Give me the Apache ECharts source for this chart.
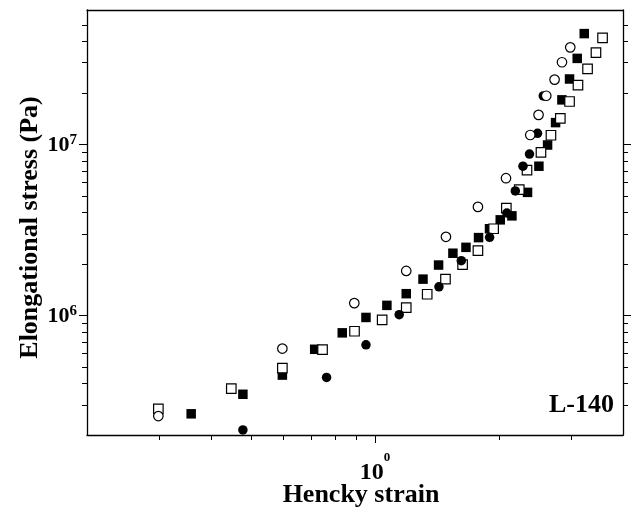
<!DOCTYPE html>
<html>
<head>
<meta charset="utf-8">
<script src="https://cdn.jsdelivr.net/npm/echarts@6/dist/echarts.min.js"></script>
<style>
  html, body { margin: 0; padding: 0; background: #fff; }
  #chart { width: 631px; height: 509px; }
</style>
</head>
<body>
<div id="chart"></div>
<script>
const FONT = '"Liberation Serif", "Times New Roman", serif';

// Hencky strain (x) and elongational stress in Pa (y) for each data set
const strainOpenCircle = [0.298, 0.596, 0.891, 1.191, 1.487, 1.778, 2.080, 2.382, 2.495, 2.605, 2.729, 2.844, 2.979];
const stressOpenCircle = [2.58e5, 6.40e5, 1.18e6, 1.82e6, 2.88e6, 4.31e6, 6.34e6, 1.134e7, 1.487e7, 1.924e7, 2.39e7, 3.02e7, 3.69e7];

const strainFilledCircle = [0.478, 0.763, 0.951, 1.145, 1.430, 1.620, 1.898, 2.090, 2.191, 2.287, 2.372, 2.481, 2.562];
const stressFilledCircle = [2.14e5, 4.34e5, 6.73e5, 1.01e6, 1.47e6, 2.09e6, 2.86e6, 3.97e6, 5.34e6, 7.45e6, 8.77e6, 1.16e7, 1.92e7];

const strainOpenSquare = [0.298, 0.448, 0.596, 0.746, 0.892, 1.041, 1.191, 1.339, 1.483, 1.632, 1.778, 1.941, 2.084, 2.240, 2.339, 2.529, 2.674, 2.818, 2.967, 3.110, 3.281, 3.439, 3.568];
const stressOpenSquare = [2.84e5, 3.73e5, 4.92e5, 6.31e5, 8.08e5, 9.43e5, 1.11e6, 1.33e6, 1.63e6, 1.98e6, 2.39e6, 3.21e6, 4.24e6, 5.43e6, 7.06e6, 8.97e6, 1.13e7, 1.42e7, 1.78e7, 2.22e7, 2.76e7, 3.44e7, 4.19e7];

const strainFilledSquare = [0.358, 0.478, 0.596, 0.714, 0.833, 0.951, 1.069, 1.191, 1.308, 1.427, 1.546, 1.663, 1.784, 1.897, 2.014, 2.150, 2.346, 2.500, 2.624, 2.744, 2.843, 2.967, 3.097, 3.221];
const stressFilledSquare = [2.66e5, 3.46e5, 4.48e5, 6.34e5, 7.91e5, 9.73e5, 1.145e6, 1.34e6, 1.63e6, 1.97e6, 2.31e6, 2.50e6, 2.85e6, 3.21e6, 3.62e6, 3.82e6, 5.24e6, 7.45e6, 9.91e6, 1.34e7, 1.82e7, 2.41e7, 3.18e7, 4.44e7];

// Axis ranges and tick positions
const strainRange = [0.2, 4];
const stressRange = [2e5, 6.1e7];
const strainMinorTicks = [0.3, 0.4, 0.5, 0.6, 0.7, 0.8, 0.9, 2, 3];
const strainMajorTicks = [1];
const stressMinorTicks = [3e5, 4e5, 5e5, 6e5, 7e5, 8e5, 9e5, 2e6, 3e6, 4e6, 5e6, 6e6, 7e6, 8e6, 9e6, 2e7, 3e7, 4e7, 5e7];
const stressMajorTicks = [1e6, 1e7];

const zip = (xs, ys) => xs.map((x, i) => [x, ys[i]]);

const black = '#000';
const lineStyle = { color: black, width: 1.3 };

function logAxis(range, extra) {
  return Object.assign({
    type: 'log',
    logBase: 10,
    min: range[0],
    max: range[1],
    splitLine: { show: false },
    axisLine: { show: false, lineStyle: lineStyle },
    axisTick: { show: false },
    axisLabel: { show: false },
    axisPointer: { show: false }
  }, extra);
}

// "10" with a bold superscript exponent; baseLine sets how far the base sits below the exponent
const powerLabel = (exp, big, baseLine, small) => ({
  formatter: v => '{b|10}{s|' + exp(v) + '}',
  rich: {
    b: { fontFamily: FONT, fontWeight: 'bold', fontSize: big, lineHeight: baseLine, color: black, verticalAlign: 'bottom' },
    s: { fontFamily: FONT, fontWeight: 'bold', fontSize: small, lineHeight: small, color: black, verticalAlign: 'top' }
  }
});

const chart = echarts.init(document.getElementById('chart'), null, { renderer: 'canvas' });

chart.setOption({
  animation: false,
  backgroundColor: '#fff',
  grid: { left: 87, right: 8, top: 10, bottom: 74, containLabel: false, outerBoundsMode: 'none' },
  xAxis: [
    logAxis(strainRange, {
      position: 'bottom',
      axisLine: { show: true, lineStyle: lineStyle },
      axisTick: { show: true, inside: false, length: 5, customValues: strainMinorTicks, lineStyle: { color: black, width: 1 } },
      name: 'Hencky strain',
      nameLocation: 'middle',
      nameGap: 47,
      nameTextStyle: { fontFamily: FONT, fontWeight: 'bold', fontSize: 26, color: black, padding: [0, 0, 0, 12] }
    }),
    logAxis(strainRange, {
      position: 'bottom',
      axisTick: { show: true, inside: false, length: 8, customValues: strainMajorTicks, lineStyle: { color: black, width: 1 } },
      axisLabel: Object.assign({ show: true, margin: 16, customValues: strainMajorTicks }, powerLabel(v => 0, 24, 34, 13))
    }),
    logAxis(strainRange, {
      position: 'top',
      axisLine: { show: true, lineStyle: lineStyle }
    })
  ],
  yAxis: [
    logAxis(stressRange, {
      position: 'left',
      axisLine: { show: true, lineStyle: lineStyle },
      axisTick: { show: true, inside: false, length: 5, customValues: stressMinorTicks, lineStyle: { color: black, width: 1 } },
      name: 'Elongational stress (Pa)',
      nameLocation: 'middle',
      nameGap: 44,
      nameTextStyle: { fontFamily: FONT, fontWeight: 'bold', fontSize: 26, color: black, padding: [0, 10, 0, 0] }
    }),
    logAxis(stressRange, {
      position: 'left',
      axisTick: { show: true, inside: false, length: 8, customValues: stressMajorTicks, lineStyle: { color: black, width: 1 } },
      axisLabel: Object.assign({ show: true, margin: 10, customValues: stressMajorTicks }, powerLabel(v => Math.round(Math.log10(v)), 22, 24, 15))
    }),
    logAxis(stressRange, {
      position: 'right',
      axisLine: { show: true, lineStyle: lineStyle },
      axisTick: { show: true, inside: false, length: 5, customValues: stressMinorTicks, lineStyle: { color: black, width: 1 } }
    }),
    logAxis(stressRange, {
      position: 'right',
      axisTick: { show: true, inside: false, length: 8, customValues: stressMajorTicks, lineStyle: { color: black, width: 1 } }
    })
  ],
  graphic: [{
    type: 'text',
    right: 17,
    top: 392,
    style: { text: 'L-140', fontFamily: FONT, fontWeight: 'bold', fontSize: 26, fill: black }
  }],
  series: [
    {
      type: 'scatter', name: 'filled squares', symbol: 'rect', symbolSize: 9.5,
      itemStyle: { color: black, opacity: 1 },
      data: zip(strainFilledSquare, stressFilledSquare)
    },
    {
      type: 'scatter', name: 'open squares', symbol: 'rect', symbolSize: 9.5,
      itemStyle: { color: '#fff', borderColor: black, borderWidth: 1.2, opacity: 1 },
      data: zip(strainOpenSquare, stressOpenSquare)
    },
    {
      type: 'scatter', name: 'filled circles', symbol: 'circle', symbolSize: 9.5,
      itemStyle: { color: black, opacity: 1 },
      data: zip(strainFilledCircle, stressFilledCircle)
    },
    {
      type: 'scatter', name: 'open circles', symbol: 'circle', symbolSize: 9.5,
      itemStyle: { color: '#fff', borderColor: black, borderWidth: 1.2, opacity: 1 },
      data: zip(strainOpenCircle, stressOpenCircle)
    }
  ].map(s => Object.assign(s, { silent: true, emphasis: { disabled: true }, clip: false }))
});
</script>
</body>
</html>
